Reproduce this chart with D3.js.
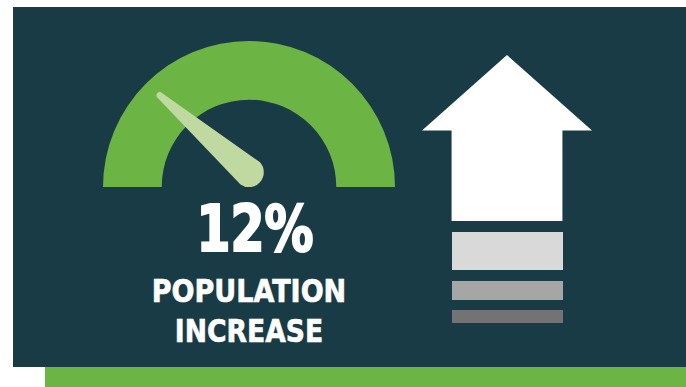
<!DOCTYPE html>
<html>
<head>
<meta charset="utf-8">
<script src="https://cdn.jsdelivr.net/npm/d3@7"></script>
<style>
  html, body { margin: 0; padding: 0; background: #fff; }
  svg { display: block; }
  text { font-family: "DejaVu Sans", sans-serif; font-stretch: condensed; font-weight: 700; fill: #fff; stroke: #fff; stroke-linejoin: miter; text-anchor: middle; }
</style>
</head>
<body>
<svg id="chart" width="686" height="387"></svg>
<script>
// Headline figure and its caption
const increasePct = 12;
const percentLabel = "12%";
const captionLines = ["POPULATION", "INCREASE"];

// Dial reading range
const dialDomain = [0, 53];

// Fading steps under the arrow: relative thickness and tone
const stepThickness = [38, 19, 13];
const stepTones = ["#d9d9d9", "#a6a6a6", "#737373"];

const svg = d3.select("#chart");
const colors = { panel: "#193b46", green: "#6cb545", needle: "#bfd9a0", white: "#ffffff" };

// Backing panel and the accent band beneath it
svg.append("rect").attr("x", 13).attr("y", 7).attr("width", 673).attr("height", 360).attr("fill", colors.panel);
svg.append("rect").attr("x", 45).attr("y", 367).attr("width", 641).attr("height", 20).attr("fill", colors.green);

// Gauge
const cx = 249, cy = 187, rOuter = 146, rInner = 87.3;
const dialAngle = d3.scaleLinear().domain(dialDomain).range([-Math.PI / 2, Math.PI / 2]);
const gauge = svg.append("g").attr("transform", `translate(${cx},${cy})`);
gauge.append("path")
  .attr("d", d3.arc()({
    innerRadius: rInner, outerRadius: rOuter,
    startAngle: dialAngle.range()[0], endAngle: dialAngle.range()[1]
  }))
  .attr("fill", colors.green);

// Needle: tapered hull of the hub circle and a small tip circle
const hubR = 14.8, tipR = 3.2, tipLen = 118;
const hub = [0, -14.7];
const a = dialAngle(increasePct);
const dir = [Math.sin(a), -Math.cos(a)];
const tip = [hub[0] + dir[0] * tipLen, hub[1] + dir[1] * tipLen];
const off = Math.asin((hubR - tipR) / tipLen);
const tangent = s => {
  const t = a + s * (Math.PI / 2 + off);
  return [Math.sin(t), -Math.cos(t)];
};
const [nL, nR] = [tangent(-1), tangent(1)];
const needlePath = d3.path();
needlePath.moveTo(hub[0] + nL[0] * hubR, hub[1] + nL[1] * hubR);
needlePath.lineTo(tip[0] + nL[0] * tipR, tip[1] + nL[1] * tipR);
needlePath.arc(tip[0], tip[1], tipR, Math.atan2(nL[1], nL[0]), Math.atan2(nR[1], nR[0]), false);
needlePath.lineTo(hub[0] + nR[0] * hubR, hub[1] + nR[1] * hubR);
needlePath.arc(hub[0], hub[1], hubR, Math.atan2(nR[1], nR[0]), Math.atan2(nL[1], nL[0]), false);
needlePath.closePath();
gauge.append("path").attr("d", needlePath.toString()).attr("fill", colors.needle);

// Text block, each line fitted to its measured width and thickened with a stroke
function fitted(str, midX, baseline, size, width, weight) {
  svg.append("text")
    .attr("x", midX).attr("y", baseline)
    .attr("font-size", size)
    .attr("stroke-width", weight)
    .attr("textLength", width)
    .attr("lengthAdjust", "spacingAndGlyphs")
    .text(str);
}
fitted(percentLabel, 255, 251, 64, 117, 2.2);
fitted(captionLines[0], 249, 301.6, 32.4, 194.5, 0.6);
fitted(captionLines[1], 249, 341.6, 32.4, 148.5, 0.6);

// Arrow
const arrowX = d3.scaleLinear().domain([-1, 1]).range([422, 592]);
const shaft = 0.652;
const arrowY = { tip: 55, shoulder: 130.5, foot: 221 };
const arrowLine = d3.line()([
  [arrowX(0), arrowY.tip],
  [arrowX(1), arrowY.shoulder],
  [arrowX(shaft), arrowY.shoulder],
  [arrowX(shaft), arrowY.foot],
  [arrowX(-shaft), arrowY.foot],
  [arrowX(-shaft), arrowY.shoulder],
  [arrowX(-1), arrowY.shoulder]
]) + "Z";
svg.append("path").attr("d", arrowLine).attr("fill", colors.white);

// Steps stacked below the arrow, the gaps narrowing downward
const stepGaps = [11, 10, 0];
let stepTop = 232;
const stepRows = stepThickness.map((h, i) => {
  const row = { y: stepTop, h, tone: stepTones[i] };
  stepTop += h + stepGaps[i];
  return row;
});
svg.selectAll("rect.step").data(stepRows).join("rect")
  .attr("class", "step")
  .attr("x", 452).attr("width", 111)
  .attr("y", d => d.y).attr("height", d => d.h)
  .attr("fill", d => d.tone);
</script>
</body>
</html>
